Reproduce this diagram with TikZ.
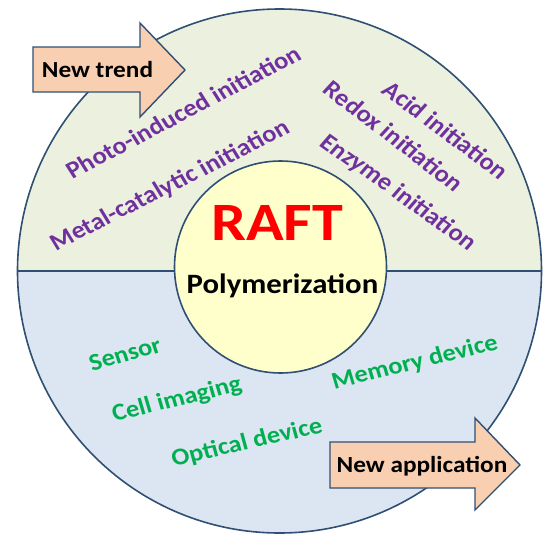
\documentclass[tikz,border=0pt]{standalone}
\usepackage{fontspec}
\setmainfont{Carlito}
\definecolor{upperfill}{HTML}{EBF1DE}
\definecolor{lowerfill}{HTML}{DCE6F2}
\definecolor{corefill}{HTML}{FFFFCC}
\definecolor{edge}{HTML}{2F4F73}
\definecolor{arrowfill}{HTML}{F9CFB2}
\definecolor{purp}{HTML}{7030A0}
\definecolor{grn}{HTML}{00B050}
\tikzset{
  ringedge/.style={draw=edge, line width=1.6pt},
  arrowshape/.style={fill=arrowfill, draw=edge, line width=1.4pt, line join=miter},
  trendtext/.style={font=\bfseries\fontsize{24}{26}\selectfont, text=purp, inner sep=0pt, xscale=1.1},
  apptext/.style={font=\bfseries\fontsize{24}{26}\selectfont, text=grn, inner sep=0pt, xscale=1.1},
  arrowtext/.style={font=\bfseries\fontsize{23}{25}\selectfont, text=black, inner sep=0pt, xscale=1.1},
}
\begin{document}
\begin{tikzpicture}[x=1pt,y=-1pt]
\useasboundingbox (0,0) rectangle (550,539);
\coordinate (c) at (279.5,271);
% outer disc
\fill[lowerfill] (c) circle (262);
\begin{scope}
  \clip (0,0) rectangle (550,271);
  \fill[upperfill] (c) circle (262);
\end{scope}
\draw[ringedge] (c) circle (262);
\coordinate (lh) at (17.5,271);
\coordinate (rh) at (541.5,271);
\draw[ringedge] (lh) -- (rh);
% inner disc
\node[circle, fill=corefill, draw=edge, line width=1.6pt, minimum size=212pt, inner sep=0pt] (core) at (280.5,267) {};
\node[font=\bfseries\fontsize{54}{60}\selectfont, text=red, inner sep=0pt, xscale=1.15] (raft) at (277,222.5) {RAFT};
\node[font=\bfseries\fontsize{28}{30}\selectfont, text=black, inner sep=0pt, xscale=1.1, anchor=base] (poly) at (282.5,293) {Polymerization};
% arrows
\draw[arrowshape] (33,47) -- (140,47) -- (140,23) -- (185,70) -- (140,117) -- (140,92) -- (33,92) -- cycle;
\node[arrowtext] (trend) at (97.5,70) {New trend};
\draw[arrowshape] (330,442) -- (475,442) -- (475,418) -- (520,465) -- (475,510) -- (475,488) -- (330,488) -- cycle;
\node[arrowtext] (app) at (422,466) {New application};
% trend texts
\node[trendtext, rotate=30] (photo) at (183,112) {Photo-induced initiation};
\node[trendtext, rotate=29] (metal) at (170,186) {Metal-catalytic initiation};
\node[trendtext, rotate=-39] (acid) at (446,130) {Acid initiation};
\node[trendtext, rotate=-40] (redox) at (394,136) {Redox initiation};
\node[trendtext, rotate=-38] (enzyme) at (398,193) {Enzyme initiation};
% application texts
\node[apptext, rotate=17] (sensor) at (125,354) {Sensor};
\node[apptext, rotate=15] (cell) at (177,400) {Cell imaging};
\node[apptext, rotate=14] (optical) at (247,443) {Optical device};
\node[apptext, rotate=15] (memory) at (415,363) {Memory device};
\end{tikzpicture}
\end{document}
